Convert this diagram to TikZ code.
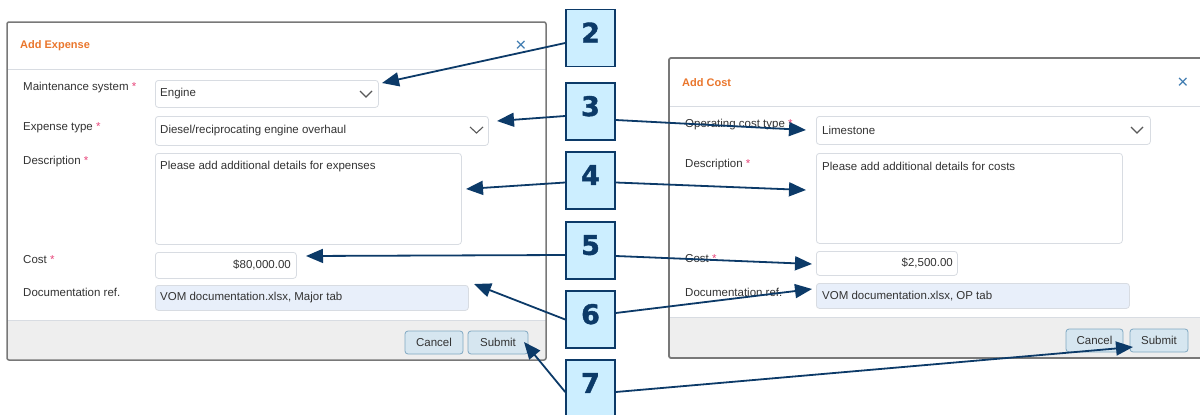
\documentclass[tikz,border=0pt]{standalone}
\usepackage{fontspec}
\setmainfont{Liberation Sans}
\newfontfamily\numfont[BoldFeatures={FakeBold=1.4}]{DejaVu Sans}
\usetikzlibrary{arrows.meta,positioning}

\definecolor{navy}{RGB}{12,58,104}
\definecolor{calloutfill}{RGB}{204,238,255}
\definecolor{titleorange}{RGB}{234,118,44}
\definecolor{closeblue}{RGB}{61,122,176}
\definecolor{reqpink}{RGB}{232,69,122}
\definecolor{fieldline}{RGB}{216,220,226}
\definecolor{reffill}{RGB}{232,239,250}
\definecolor{footergrey}{RGB}{238,238,238}
\definecolor{framegrey}{RGB}{120,120,120}
\definecolor{btnfill}{RGB}{214,230,240}
\definecolor{btnline}{RGB}{128,168,194}
\definecolor{txtgrey}{RGB}{51,51,51}

\tikzset{
    field/.style={draw=fieldline, fill=white, rounded corners=3pt,
        line width=0.8pt, inner sep=0pt, anchor=north west},
    lbl/.style={anchor=west, inner sep=0pt, text=txtgrey,
        font=\fontsize{11.5}{13}\selectfont},
    title/.style={anchor=west, inner sep=0pt, text=titleorange,
        font=\bfseries\fontsize{11}{13}\selectfont},
    closex/.style={inner sep=0pt, text=closeblue,
        font=\fontsize{19}{19}\selectfont},
    btn/.style={draw=btnline, fill=btnfill, rounded corners=3pt,
        line width=0.8pt, minimum height=23pt, inner sep=0pt,
        text=txtgrey, font=\fontsize{11.5}{13}\selectfont},
    chev/.style={line width=1.1pt, draw=black!65},
    callout/.style={draw=navy, fill=calloutfill, line width=1.6pt,
        minimum width=49pt, minimum height=57pt, inner sep=0pt,
        text=navy, text depth=11pt,
        font=\numfont\bfseries\fontsize{27}{27}\selectfont},
    pointer/.style={->, navy, line width=1.8pt}
}

\newcommand{\req}{\textcolor{reqpink}{*}}

\begin{document}
\begin{tikzpicture}[>={Triangle[length=17pt,width=14pt]}, x=1pt, y=-1pt]

    \useasboundingbox (0,0) rectangle (1200,415);
    \clip (0,0) rectangle (1200,415);

    % Finestra esquerra
    \fill[white] (7,22) rectangle (546,360);
    \fill[footergrey] (7,320) rectangle (546,360);
    \draw[fieldline, line width=0.8pt] (7,69) -- (546,69);
    \draw[fieldline, line width=0.8pt] (7,320) -- (546,320);
    \draw[
        framegrey,
        line width=1.5pt,
        rounded corners=2pt
    ] (7,22) rectangle (546,360);

    \node[title] (exptitle) at (20,46) {Add Expense};
    \node[closex] (expclose) at (521,46) {×};

    \node[lbl] (syslbl) at (23,88) {Maintenance system \req};
    \node[lbl] (typelbl) at (23,128) {Expense type \req};
    \node[lbl] (desclbl) at (23,162) {Description \req};
    \node[lbl] (costlbl) at (23,260) {Cost \req};
    \node[lbl] (reflbl) at (23,292) {Documentation ref.};

    \node[field, minimum width=223pt, minimum height=27pt] (sysbox) at (155,80) {};
    \node[lbl] (sysval) at (160,94) {Engine};
    \draw[chev] (360,91) -- (366,97) -- (372,91);

    \node[field, minimum width=333pt, minimum height=29pt] (typebox) at (155,116) {};
    \node[lbl] (typeval) at (160,131) {Diesel/reciprocating engine overhaul};
    \draw[chev] (470,127) -- (476.5,133) -- (483,127);

    \node[field, minimum width=306pt, minimum height=91pt] (descbox) at (155,153) {};
    \node[lbl] (descval) at (160,167) {Please add additional details for expenses};

    \node[field, minimum width=141pt, minimum height=26pt] (costbox) at (155,252) {};
    \node[lbl, anchor=east] (costval) at (291,265) {\$80,000.00};

    \node[field, fill=reffill, minimum width=313pt, minimum height=25pt] (refbox) at (155,285) {};
    \node[lbl] (refval) at (160,298) {VOM documentation.xlsx, Major tab};

    \node[btn, minimum width=58pt] (expcancel) at (434,342.5) {Cancel};
    \node[btn, minimum width=60pt] (expsubmit) at (498,342.5) {Submit};

    % Finestra dreta
    \fill[white] (669,58) rectangle (1210,358);
    \fill[footergrey] (669,317) rectangle (1210,358);
    \draw[fieldline, line width=0.8pt] (669,106) -- (1210,106);
    \draw[fieldline, line width=0.8pt] (669,317) -- (1210,317);
    \draw[
        framegrey,
        line width=1.8pt,
        rounded corners=2pt
    ] (669,58) rectangle (1210,358);

    \node[title] (costtitle) at (682,83) {Add Cost};
    \node[closex] (costclose) at (1183,83) {×};

    \node[lbl] (oplbl) at (685,125) {Operating cost type \req};
    \node[lbl] (cdesclbl) at (685,165) {Description \req};
    \node[lbl] (ccostlbl) at (685,259) {Cost \req};
    \node[lbl] (creflbl) at (685,292) {Documentation ref.};

    \node[field, minimum width=334pt, minimum height=28pt] (opbox) at (816,116) {};
    \node[lbl] (opval) at (822,130) {Limestone};
    \draw[chev] (1131,127) -- (1137,133) -- (1143,127);

    \node[field, minimum width=306pt, minimum height=90pt] (cdescbox) at (816,153) {};
    \node[lbl] (cdescval) at (822,166) {Please add additional details for costs};

    \node[field, minimum width=141pt, minimum height=24pt] (ccostbox) at (816,251) {};
    \node[lbl, anchor=east] (ccostval) at (953,263) {\$2,500.00};

    \node[field, fill=reffill, minimum width=313pt, minimum height=25pt] (crefbox) at (816,283) {};
    \node[lbl] (crefval) at (822,296) {VOM documentation.xlsx, OP tab};

    \node[btn, minimum width=57pt] (costcancel) at (1094.5,340.5) {Cancel};
    \node[btn, minimum width=58pt] (costsubmit) at (1159,340.5) {Submit};

    % Puntes de les fletxes
    \coordinate (t2) at (382,83);
    \coordinate (t3a) at (497,121);
    \coordinate (t3b) at (806,130);
    \coordinate (t4a) at (466,189);
    \coordinate (t4b) at (806,190);
    \coordinate (t5a) at (306,256);
    \coordinate (t5b) at (812,264);
    \coordinate (t6a) at (474,284);
    \coordinate (t6b) at (812,289);
    \coordinate (t7a) at (524,342);
    \coordinate (t7b) at (1133,347);

    % Requadres numerats
    \node[callout] (n2) at (590.5,38) {2};
    \node[callout] (n3) at (590.5,111.5) {3};
    \node[callout] (n4) at (590.5,180.5) {4};
    \node[callout] (n5) at (590.5,250.5) {5};
    \node[callout] (n6) at (590.5,319.5) {6};
    \node[callout] (n7) at (590.5,388.5) {7};

    % Fletxes
    \draw[pointer] ([yshift=-5pt]n2.west) -- (t2);
    \draw[pointer] ([yshift=-4.5pt]n3.west) -- (t3a);
    \draw[pointer] ([yshift=-8.5pt]n3.east) -- (t3b);
    \draw[pointer] ([yshift=-2pt]n4.west) -- (t4a);
    \draw[pointer] ([yshift=-2pt]n4.east) -- (t4b);
    \draw[pointer] ([yshift=-4.5pt]n5.west) -- (t5a);
    \draw[pointer] ([yshift=-5.5pt]n5.east) -- (t5b);
    \draw[pointer] (n6.west) -- (t6a);
    \draw[pointer] ([yshift=6.5pt]n6.east) -- (t6b);
    \draw[pointer] ([yshift=-3.5pt]n7.west) -- (t7a);
    \draw[pointer] ([yshift=-3.5pt]n7.east) -- (t7b);

\end{tikzpicture}
\end{document}
